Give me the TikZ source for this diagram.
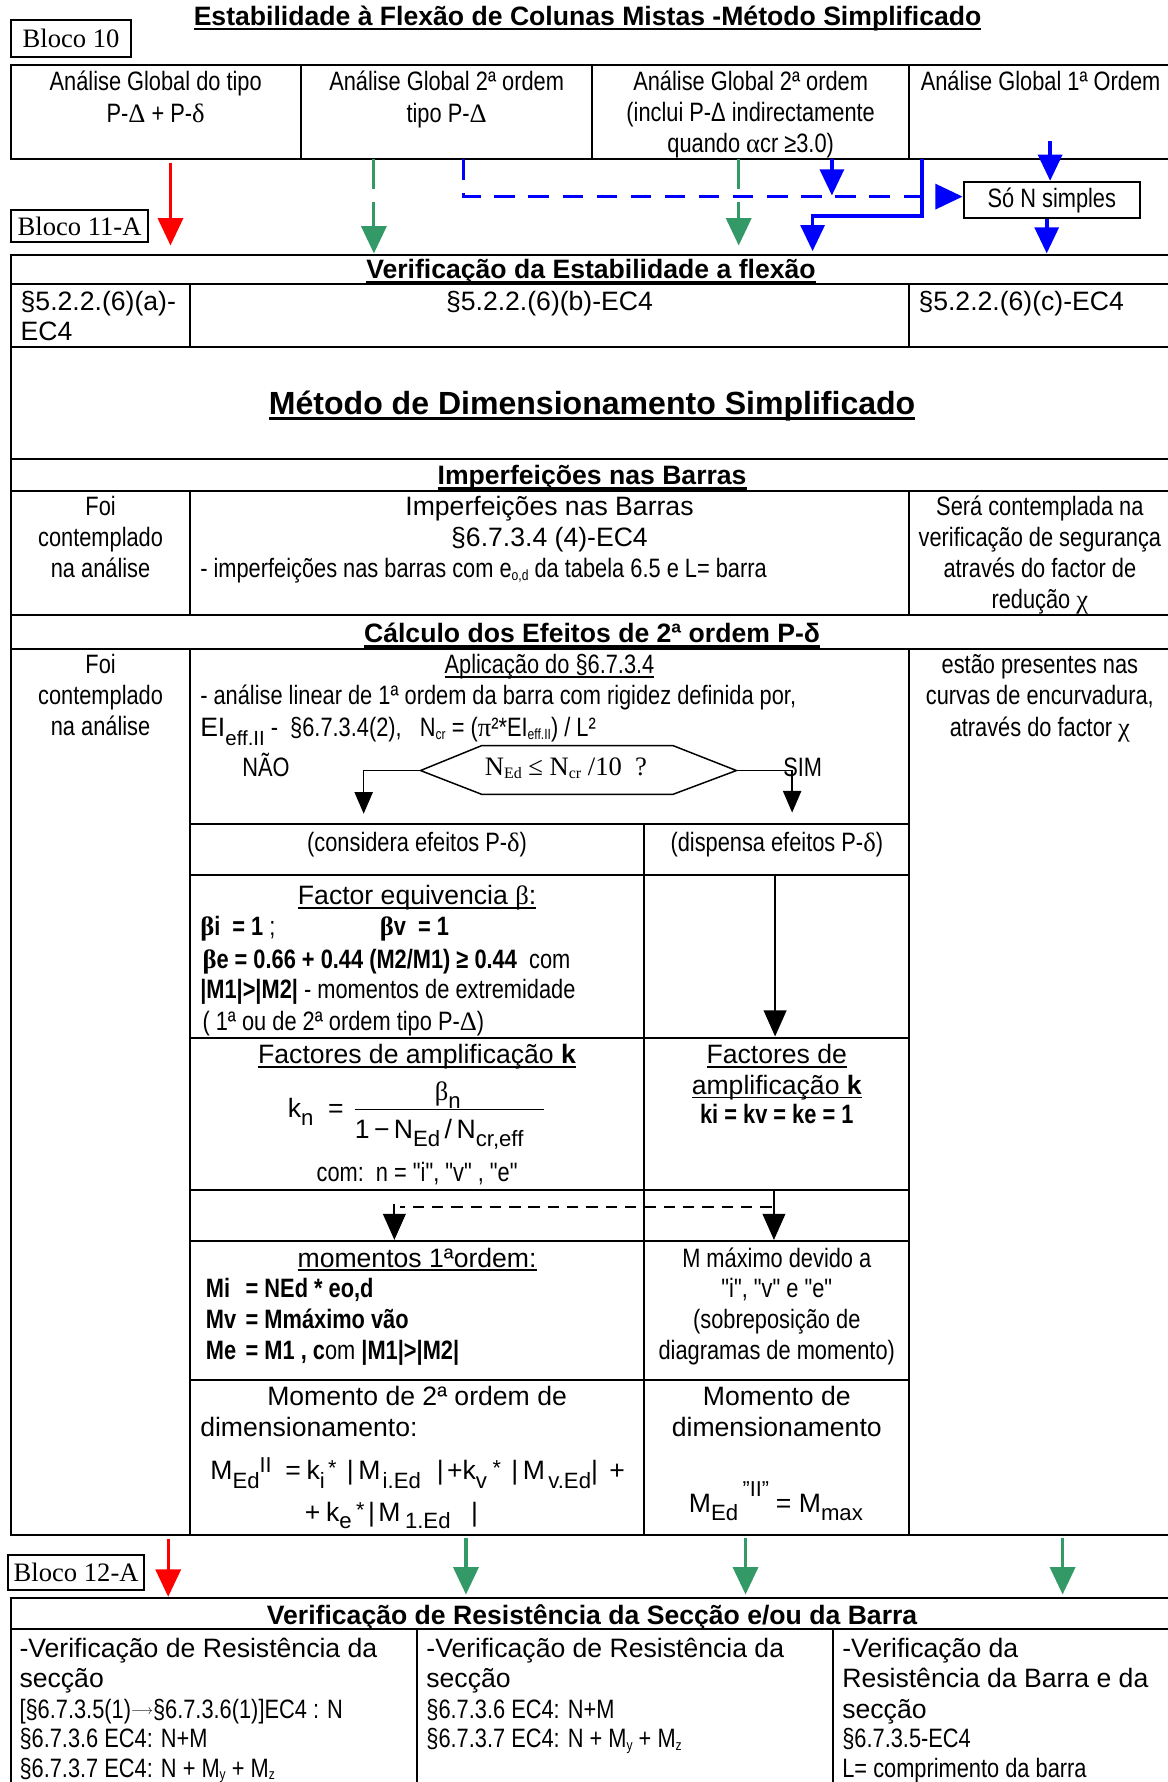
\documentclass[tikz,border=0pt]{standalone}
\usepackage{fontspec}
\setmainfont{Liberation Sans}
\newfontfamily\nar[FakeStretch=0.82]{Liberation Sans}
\newfontfamily\tms{Liberation Serif}
\usetikzlibrary{arrows.meta}

\definecolor{flowred}{RGB}{255,0,0}
\definecolor{flowgreen}{RGB}{51,153,102}
\definecolor{flowblue}{RGB}{0,0,255}

% sizes
\newcommand\fsbody{\fontsize{23.4}{27.5}\selectfont}
\newcommand\fshead{\bfseries\fontsize{23.4}{27.5}\selectfont}
\newcommand\fsbig{\bfseries\fontsize{28.2}{32}\selectfont}
% lowered / raised pieces
\newcommand\lo[2][6pt]{\raisebox{-#1}{\fontsize{18}{18}\selectfont #2}}
\newcommand\lof[2][7pt]{\raisebox{-#1}{\fontsize{19.5}{19.5}\selectfont #2}}
\newcommand\tinylo[2][3pt]{\raisebox{-#1}{\fontsize{13}{13}\selectfont #2}}
\newcommand\hi[2][10pt]{\raisebox{#1}{\fontsize{19}{19}\selectfont #2}}
\newcommand\longarr{\raisebox{3pt}{\fontsize{13}{13}\selectfont$\longrightarrow$}}
% underlines
\newcommand\ul[1]{\setbox0\hbox{#1}\rlap{\rule[-3.4pt]{\wd0}{1.5pt}}\box0}
\newcommand\ulb[1]{\setbox0\hbox{#1}\rlap{\rule[-4.8pt]{\wd0}{2.6pt}}\box0}

\tikzset{
  tl/.style={inner sep=0pt, anchor=base west, font=\fsbody\nar},
  tc/.style={inner sep=0pt, anchor=base, font=\fsbody\nar},
  al/.style={inner sep=0pt, anchor=base west, font=\fsbody},
  ac/.style={inner sep=0pt, anchor=base, font=\fsbody},
  hd/.style={inner sep=0pt, anchor=base, font=\fshead},
  blocobox/.style={draw, line width=1.8pt, inner sep=0pt, font=\fsbody\tms},
  grid/.style={line width=1.8pt, line cap=rect},
  redflow/.style={flowred, line width=2.8pt, -{Triangle[length=24pt,width=22pt]}},
  greenflow/.style={flowgreen, line width=2.8pt, -{Triangle[length=24pt,width=22pt]}},
  blueflow/.style={flowblue, line width=3.2pt, -{Triangle[length=23pt,width=21pt]}},
  bluedash/.style={flowblue, line width=3pt, dash pattern=on 18pt off 12pt, -{Triangle[length=24pt,width=22pt]}},
  blackflow/.style={black, line width=1.6pt, -{Triangle[length=23pt,width=20pt]}},
  smallflow/.style={black, line width=1.3pt, -{Triangle[length=19pt,width=16pt]}},
  dashline/.style={black, line width=1.5pt, dash pattern=on 10pt off 7pt},
}

\begin{document}
\begin{tikzpicture}[x=1pt,y=-1pt]
\useasboundingbox (0,0) rectangle (1027,1568);

% ---------- title and block 10 ----------
\node[hd] (title) at (517,22) {\ulb{Estabilidade à Flexão de Colunas Mistas -Método Simplificado}};
\node[blocobox, minimum width=105pt, minimum height=32pt] (b10) at (62.5,34) {Bloco 10};

% types of global analysis
\draw[grid] (10,57) -- (1027,57) (10,140) -- (1027,140)
  (10,57) -- (10,140) (265,57) -- (265,140) (521,57) -- (521,140) (800,57) -- (800,140);
\node[tc] (g1a) at (137,80) {Análise Global do tipo};
\node[tc] (g1b) at (137,108) {P-{\tms Δ} + P-{\tms δ}};
\node[tc] (g2a) at (393,80) {Análise Global 2ª ordem};
\node[tc] (g2b) at (393,108) {tipo P-{\tms Δ}};
\node[tc] (g3a) at (660.5,80) {Análise Global 2ª ordem};
\node[tc] (g3b) at (660.5,107) {(inclui P-Δ indirectamente};
\node[tc] (g3c) at (660.5,134) {quando {\tms α}cr ≥3.0)};
\node[tl] (g4a) at (810,80) {Análise Global 1ª Ordem};

\node[draw, line width=1.8pt, inner sep=0pt, minimum width=155pt, minimum height=32pt, font=\fsbody\nar] (son) at (925.5,176) {Só N simples};
\node[blocobox, minimum width=120pt, minimum height=28pt] (b11) at (70,199) {Bloco 11-A};

% connectors from the analysis types
\coordinate (ra0) at (150,143); \coordinate (ra1) at (150,216);
\draw[redflow] (ra0) -- (ra1);
\coordinate (ga0) at (329,140); \coordinate (ga1) at (329,223);
\draw[greenflow, dash pattern=on 26pt off 12pt] (ga0) -- (ga1);
\coordinate (gb0) at (650,140); \coordinate (gb1) at (650,216);
\draw[greenflow, dash pattern=on 26pt off 12pt] (gb0) -- (gb1);
\coordinate (bd0) at (408,140); \coordinate (bd1) at (847,173);
\draw[bluedash] (bd0) |- (bd1);
\coordinate (bb0) at (732,140); \coordinate (bb1) at (732,172);
\draw[blueflow] (bb0) -- (bb1);
\coordinate (bl0) at (811,140); \coordinate (bl1) at (715,221);
\draw[blueflow] (bl0) -- ++(0,50) -| (bl1);
\coordinate (bs0) at (924,124);
\draw[blueflow] (bs0) -- (bs0 |- son.north);
\coordinate (bs1) at (921,223);
\draw[blueflow] (bs1 |- son.south) -- (bs1);

% ---------- block 11 table ----------
\foreach \yy in {224,250,305,404,432,541,571,1351} \draw[grid] (10,\yy) -- (1027,\yy);
\draw[grid] (10,224) -- (10,1351);
\draw[grid] (167,250) -- (167,305) (800,250) -- (800,305);
\draw[grid] (167,432) -- (167,541) (800,432) -- (800,541);
\draw[grid] (167,571) -- (167,1351) (800,571) -- (800,1351);
\foreach \yy in {725,770,913,1047,1092,1214} \draw[grid] (167,\yy) -- (800,\yy);
\draw[grid] (567,725) -- (567,1351);

\node[hd] (h1) at (520,245) {\ulb{Verificação da Estabilidade a flexão}};
\node[al] (s1a) at (18,273) {§5.2.2.(6)(a)-};
\node[al] (s1b) at (18,300) {EC4};
\node[ac] (s1c) at (483.5,273) {§5.2.2.(6)(b)-EC4};
\node[al] (s1d) at (808,273) {§5.2.2.(6)(c)-EC4};

\node[hd, font=\fsbig] (mt) at (521,365) {\ulb{Método de Dimensionamento Simplificado}};

\node[hd] (h2) at (521,426) {\ulb{Imperfeições nas Barras}};
\node[tc] (i1a) at (88.5,454) {Foi};
\node[tc] (i1b) at (88.5,481) {contemplado};
\node[tc] (i1c) at (88.5,508) {na análise};
\node[ac] (i2a) at (483.5,454) {Imperfeições nas Barras};
\node[ac] (i2b) at (483.5,481) {§6.7.3.4 (4)-EC4};
\node[tl] (i2c) at (176,508) {- imperfeições nas barras com e\tinylo{o,d} da tabela 6.5 e L= barra};
\node[tc] (i3a) at (915,454) {Será contemplada na};
\node[tc] (i3b) at (915,481) {verificação de segurança};
\node[tc] (i3c) at (915,508) {através do factor de};
\node[tc] (i3d) at (915,535) {redução {\tms χ}};

\node[hd] (h3) at (521,565) {\ulb{Cálculo dos Efeitos de 2ª ordem P-δ}};
\node[tc] (c1a) at (88.5,593) {Foi};
\node[tc] (c1b) at (88.5,620) {contemplado};
\node[tc] (c1c) at (88.5,647) {na análise};
\node[tc] (c3a) at (915,593) {estão presentes nas};
\node[tc] (c3b) at (915,620) {curvas de encurvadura,};
\node[tc] (c3c) at (915,648) {através do factor {\tms χ}};

\node[tc] (ap) at (483.5,593) {\ul{Aplicação do §6.7.3.4}};
\node[tl] (an1) at (176,620) {- análise linear de 1ª ordem da barra com rigidez definida por,};
\node[tl] (an2) at (176,648) {{\rmfamily EI\lo[8pt]{eff.II}}\ -\ \ §6.7.3.4(2),\ \ \ N\tinylo{cr} = ({\tms π}²*EI\tinylo{eff.II}) / L²};
\node[tl] (nao) at (213,683) {NÃO};
\node[tl] (sim) at (689,683) {SIM};

% decision
\coordinate (decL) at (370,678); \coordinate (decR) at (648,678);
\draw[line width=1.3pt] (decL) -- (424,656) -- (592,656) -- (decR) -- (592,699) -- (424,699) -- cycle;
\node[inner sep=0pt, anchor=base, font=\fsbody\tms] (dect) at (498,682) {N\raisebox{-3pt}{\fontsize{14}{14}\selectfont Ed} ≤ N\raisebox{-3pt}{\fontsize{14}{14}\selectfont cr} /10\ \ ?};
\coordinate (naoEnd) at (320,716); \coordinate (simEnd) at (697,715);
\draw[smallflow] (decL) -| (naoEnd);
\draw[smallflow] (decR) -| (simEnd);

\node[tc] (ce) at (367,749) {(considera efeitos P-{\tms δ})};
\node[tc] (de) at (683.5,749) {(dispensa efeitos P-{\tms δ})};

\node[ac] (fe) at (367,796) {\ul{Factor equivencia {\tms β}:}};
\node[tl] (bi) at (176,823) {\textbf{{\tms β}i\ \ = 1} ;};
\node[tl] (bv) at (334,823) {\textbf{{\tms β}v\ \ = 1}};
\node[tl] (be) at (178,852) {\textbf{{\tms β}e = 0.66 + 0.44 (M2/M1) ≥ 0.44}\ \ com};
\node[tl] (mm) at (176,879) {\textbf{|M1|>|M2|} - momentos de extremidade};
\node[tl] (oo) at (178,907) {( 1ª ou de 2ª ordem tipo P-{\tms Δ})};

\coordinate (dp0) at (682,769); \coordinate (dp1) at (682,912);
\draw[blackflow] (dp0) -- (dp1);

\node[ac] (fa) at (367,936) {\ul{Factores de amplificação \textbf{k}}};
\node[al] (kn) at (253,983) {k\lof{n}\ \ =};
\draw[line width=1pt] (312,976) -- (479,976);
\node[ac] (knum) at (394,968) {{\tms β}\lof{n}};
\node[al] (kden) at (312,1002) {1\,−\,N\lof{Ed}\,/\,N\lof{cr,eff}};
\node[tc] (cm) at (367,1040) {com:\ \ n = "i", "v" , "e"};
\node[ac] (fr1) at (683.5,936) {\ul{Factores de}};
\node[ac] (fr2) at (683.5,963) {\ul{amplificação \textbf{k}}};
\node[tc, font=\fsbody\nar\bfseries] (fr3) at (683.5,989) {ki = kv = ke = 1};

\coordinate (kr0) at (681,1047); \coordinate (kr1) at (681,1091);
\draw[blackflow] (kr0) -- (kr1);
\coordinate (dl0) at (679,1062); \coordinate (dl1) at (352,1062);
\draw[dashline] (dl0) -- (dl1);
\coordinate (kl0) at (347,1059); \coordinate (kl1) at (347,1091);
\draw[blackflow] (kl0) -- (kl1);

\node[ac] (mo) at (367,1115) {\ul{momentos 1ªordem:}};
\node[tl, font=\fsbody\nar\bfseries] (mi1) at (181,1142) {Mi};
\node[tl, font=\fsbody\nar\bfseries] (mi2) at (216,1142) {= NEd * eo,d};
\node[tl, font=\fsbody\nar\bfseries] (mv1) at (181,1169) {Mv};
\node[tl, font=\fsbody\nar\bfseries] (mv2) at (216,1169) {= Mmáximo vão};
\node[tl, font=\fsbody\nar\bfseries] (me1) at (181,1196) {Me};
\node[tl, font=\fsbody\nar\bfseries] (me2) at (216,1196) {= M1 , c{\mdseries om} |M1|>|M2|};
\node[tc] (mx1) at (683.5,1115) {M máximo devido a};
\node[tc] (mx2) at (683.5,1142) {"i", "v" e "e"};
\node[tc] (mx3) at (683.5,1169) {(sobreposição de};
\node[tc] (mx4) at (683.5,1196) {diagramas de momento)};

\node[ac] (m2a) at (367,1237) {Momento de 2ª ordem de};
\node[al] (m2b) at (176,1264) {dimensionamento:};
\node[al] (mf1) at (185,1302) {M\lof[8pt]{Ed}\hi[6pt]{II}\hspace{12pt}=\hspace{5pt}k\lof[8pt]{i}\hspace{3pt}\hi[4pt]{*}\hspace{9pt}|\hspace{4pt}M\hspace{2pt}\lof[8pt]{i.Ed}\hspace{14pt}|\hspace{3pt}+k\lof[8pt]{v}\hspace{5pt}\hi[4pt]{*}\hspace{9pt}|\hspace{4pt}M\hspace{3pt}\lof[8pt]{v.Ed}|\hspace{10pt}+};
\node[al] (mf2) at (268,1339) {+\hspace{5pt}k\lof[6pt]{e}\hspace{4pt}\hi[4pt]{*}\hspace{3pt}|\hspace{3pt}M\hspace{4pt}\lof[6pt]{1.Ed}\hspace{18pt}|};
\node[ac] (md1) at (683.5,1237) {Momento de};
\node[ac] (md2) at (683.5,1264) {dimensionamento};
\node[al] (md3) at (606,1331) {M\lof{Ed}\hspace{4pt}\hi[14pt]{"II"}\hspace{6pt}= M\lof{max}};

% ---------- block 12 ----------
\node[blocobox, minimum width=120pt, minimum height=31pt] (b12) at (67,1383.5) {Bloco 12-A};
\coordinate (rb0) at (148,1354); \coordinate (rb1) at (148,1405);
\draw[redflow] (rb0) -- (rb1);
\coordinate (gc0) at (410,1353); \coordinate (gc1) at (410,1403);
\draw[greenflow] (gc0) -- (gc1);
\coordinate (gd0) at (656,1353); \coordinate (gd1) at (656,1403);
\draw[greenflow] (gd0) -- (gd1);
\coordinate (ge0) at (935,1353); \coordinate (ge1) at (935,1403);
\draw[greenflow] (ge0) -- (ge1);

\draw[grid] (10,1406) -- (1027,1406) (10,1433) -- (1027,1433)
  (10,1406) -- (10,1570) (367,1433) -- (367,1570) (733,1433) -- (733,1570);
\node[hd] (h4) at (521,1429) {Verificação de Resistência da Secção e/ou da Barra};

\node[al] (v1a) at (17,1458) {-Verificação de Resistência da};
\node[al] (v1b) at (17,1485) {secção};
\node[tl] (v1c) at (17,1512) {[§6.7.3.5(1)\longarr§6.7.3.6(1)]EC4 : N};
\node[tl] (v1d) at (17,1538) {§6.7.3.6 EC4: N+M};
\node[tl] (v1e) at (17,1564) {§6.7.3.7 EC4: N + M\tinylo[2pt]{y} + M\tinylo[2pt]{z}};
\node[al] (v2a) at (375,1458) {-Verificação de Resistência da};
\node[al] (v2b) at (375,1485) {secção};
\node[tl] (v2c) at (375,1512) {§6.7.3.6 EC4: N+M};
\node[tl] (v2d) at (375,1538) {§6.7.3.7 EC4: N + M\tinylo[2pt]{y} + M\tinylo[2pt]{z}};
\node[al] (v3a) at (741,1458) {-Verificação da};
\node[al] (v3b) at (741,1485) {Resistência da Barra e da};
\node[al] (v3c) at (741,1512) {secção};
\node[tl] (v3d) at (741,1538) {§6.7.3.5-EC4};
\node[tl] (v3e) at (741,1564) {L= comprimento da barra};
\end{tikzpicture}
\end{document}
